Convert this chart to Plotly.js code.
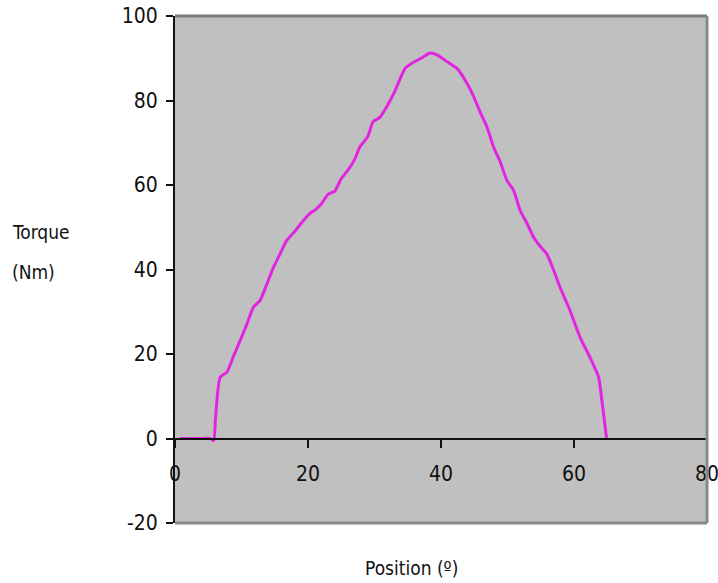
<!DOCTYPE html>
<html>
<head>
<meta charset="utf-8">
<script src="https://cdn.plot.ly/plotly-3.0.1.min.js"></script>
<style>html,body{margin:0;padding:0;background:#fff;}#chart{width:718px;height:583px;}</style>
</head>
<body>
<div id="chart"></div>
<script>
const position = [0.75, 2, 3, 4, 5.3, 5.8, 6.1, 6.8, 7.8, 8.8, 9.8, 10.8, 11.8, 12.8, 13.8, 14.8, 15.8, 16.8, 18, 19, 20.3, 21, 22, 23, 24, 25, 26, 27, 27.8, 29, 29.8, 30.8, 32, 33, 34.6, 35.6, 37, 38.3, 39.4, 40.9, 42.4, 43.9, 44.9, 45.9, 46.9, 47.9, 48.9, 49.9, 50.9, 51.9, 52.9, 53.9, 54.9, 55.9, 56.9, 57.9, 59.4, 60.9, 62.4, 63.7, 64.2, 64.9];
const torque = [0, 0, 0, 0, 0, -0.5, 5, 14.5, 15.7, 19.5, 23.2, 27, 31.1, 32.7, 36.5, 40.5, 43.7, 46.9, 49, 51, 53.3, 54, 55.5, 57.8, 58.5, 61.5, 63.5, 66, 69, 71.5, 75, 76, 79, 82, 87.6, 88.8, 90, 91.2, 90.8, 89.2, 87.6, 84.1, 81, 77.2, 73.8, 69, 65.5, 61.1, 58.8, 54, 51, 47.7, 45.5, 43.7, 40, 35.8, 30.3, 24, 19.2, 14.5, 8.9, 0];
const xTicks = [0, 20, 40, 60, 80];
const yTicks = [-20, 0, 20, 40, 60, 80, 100];

const fontFam = '"DejaVu Sans Condensed", "Liberation Sans Narrow", "Arial Narrow", sans-serif';
const yMin = -20, yMax = 100;

const trace = {
  x: position, y: torque, type: 'scatter', mode: 'lines',
  line: {color: 'rgb(226,36,226)', width: 3, shape: 'spline', smoothing: 0.6},
  hoverinfo: 'x+y'
};

const layout = {
  width: 718, height: 583,
  margin: {l: 175, r: 11, t: 16, b: 60, pad: 0},
  paper_bgcolor: '#ffffff',
  plot_bgcolor: '#c0c0c0',
  showlegend: false,
  font: {family: fontFam, size: 20, color: '#111'},
  xaxis: {
    range: [0, 80], tickvals: xTicks, ticktext: xTicks.map(String),
    anchor: 'free', position: (0 - yMin) / (yMax - yMin),
    showline: true, linecolor: '#111', linewidth: 2,
    ticks: 'outside', ticklen: 8, tickwidth: 2, tickcolor: '#111',
    showgrid: false, zeroline: false, ticklabelstandoff: 8,
    ticklabeloverflow: 'allow',
    tickfont: {family: fontFam, size: 21, color: '#111'}
  },
  yaxis: {
    range: [yMin, yMax], tickvals: yTicks, ticktext: yTicks.map(String),
    showline: true, linecolor: '#111', linewidth: 2,
    ticks: 'outside', ticklen: 7, tickwidth: 2, tickcolor: '#111',
    showgrid: false, zeroline: false, ticklabelstandoff: 4,
    tickfont: {family: fontFam, size: 21, color: '#111'}
  },
  shapes: [
    {type: 'line', xref: 'paper', yref: 'paper', x0: 0, x1: 1, y0: 1, y1: 1, line: {color: '#7a7a7a', width: 3}},
    {type: 'line', xref: 'paper', yref: 'paper', x0: 1, x1: 1, y0: 0, y1: 1, line: {color: '#8a8a8a', width: 3}},
    {type: 'line', xref: 'paper', yref: 'paper', x0: 0, x1: 1, y0: 0, y1: 0, line: {color: '#8a8a8a', width: 3}}
  ],
  annotations: [
    {text: 'Torque', xref: 'paper', yref: 'paper', x: -0.31, y: (523 - 232) / 507, xanchor: 'left', yanchor: 'middle', align: 'left', showarrow: false, font: {family: fontFam, size: 19, color: '#111'}},
    {text: '(Nm)', xref: 'paper', yref: 'paper', x: -0.31, y: (523 - 272) / 507, xanchor: 'left', yanchor: 'middle', align: 'left', showarrow: false, font: {family: fontFam, size: 19, color: '#111'}},
    {text: 'Position (º)', xref: 'paper', yref: 'paper', x: 0.445, y: -0.088, xanchor: 'center', yanchor: 'middle', showarrow: false, font: {family: fontFam, size: 19, color: '#111'}}
  ]
};

Plotly.newPlot('chart', [trace], layout, {displayModeBar: false, staticPlot: true});
</script>
</body>
</html>
